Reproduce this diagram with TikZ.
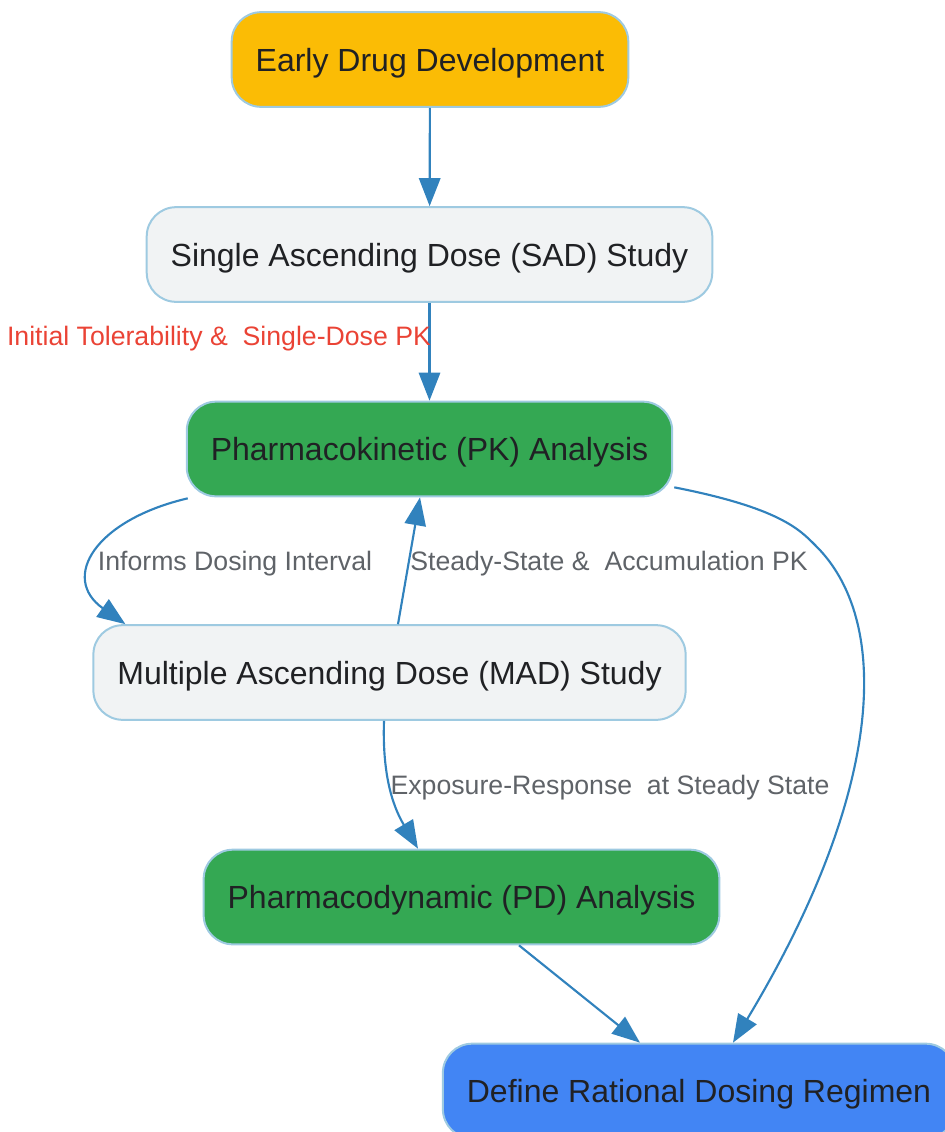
\documentclass[tikz,border=0pt]{standalone}
\usepackage{fontspec}
\setmainfont{Liberation Sans}
\usetikzlibrary{positioning,arrows.meta,calc}
\definecolor{edgeblue}{HTML}{3182BD}
\definecolor{boxline}{HTML}{9ECAE1}
\definecolor{startyellow}{HTML}{FBBC05}
\definecolor{studygray}{HTML}{F1F3F4}
\definecolor{pkgreen}{HTML}{34A853}
\definecolor{endblue}{HTML}{4285F4}
\definecolor{labelgray}{HTML}{5F6368}
\definecolor{labelred}{HTML}{EA4335}
\definecolor{inktext}{HTML}{202124}
\begin{document}
\begin{tikzpicture}[x=0.75pt, y=-0.75pt,
    box/.style={draw=boxline, line width=1.5pt, rounded corners=22pt, minimum height=71pt,
      inner xsep=18pt, text height=22.5pt, text depth=5pt, text=inktext, font=\fontsize{24}{28}\selectfont},
    flow/.style={draw=edgeblue, line width=1.6pt, -{Triangle[length=21pt, width=16pt]}},
    lbl/.style={text=labelgray, font=\fontsize{20}{24}\selectfont, inner sep=0pt}]
    \useasboundingbox (0, 0) rectangle (945, 1132);
    \node [box, fill=startyellow] (early) at (430, 59.5) {Early Drug Development};
    \node [box, fill=studygray] (sad) at (429.5, 254.5) {Single Ascending Dose (SAD) Study};
    \node [box, fill=pkgreen] (pk) at (429.5, 449) {Pharmacokinetic (PK) Analysis};
    \node [box, fill=studygray] (mad) at (389.5, 672.5) {Multiple Ascending Dose (MAD) Study};
    \node [box, fill=pkgreen] (pd) at (461.5, 897) {Pharmacodynamic (PD) Analysis};
    \node [box, fill=endblue] (regimen) at (699, 1091) {Define Rational Dosing Regimen};
    \draw [flow] (early) -- (sad);
    \draw [flow] (sad) -- (pk);
    \node [lbl, text=labelred] (tolerability) at (219, 339) {Initial Tolerability \&~~Single-Dose PK};
    \draw [flow] ($(pk.south west)+(2, 1)$) .. controls (95, 520) and (60, 578) .. ($(mad.north west)+(33, 0)$);
    \node [lbl] (interval) at (235, 564) {Informs Dosing Interval};
    \draw [flow] ($(mad.north)+(8.5, 0)$) -- ($(pk.south)+(-9.5, 0)$);
    \node [lbl] (steady) at (609, 564) {Steady-State \&~~Accumulation PK};
    \draw [flow] ($(mad.south)+(-5.5, 0)$) .. controls (382, 780) and (395, 810) .. ($(pd.north)+(-43.5, 0)$);
    \node [lbl] (exposure) at (610, 788) {Exposure-Response~~at Steady State};
    \draw [flow] ($(pd.south)+(57.5, 0)$) -- ($(regimen.north)+(-59, 0)$);
    \draw [flow] ($(pk.south east)+(1, -10)$) .. controls (780, 508) and (800, 530) .. (815, 545)
      .. controls (892, 620) and (885, 790) .. ($(regimen.north)+(34, 0)$);
  \end{tikzpicture}
\end{document}
